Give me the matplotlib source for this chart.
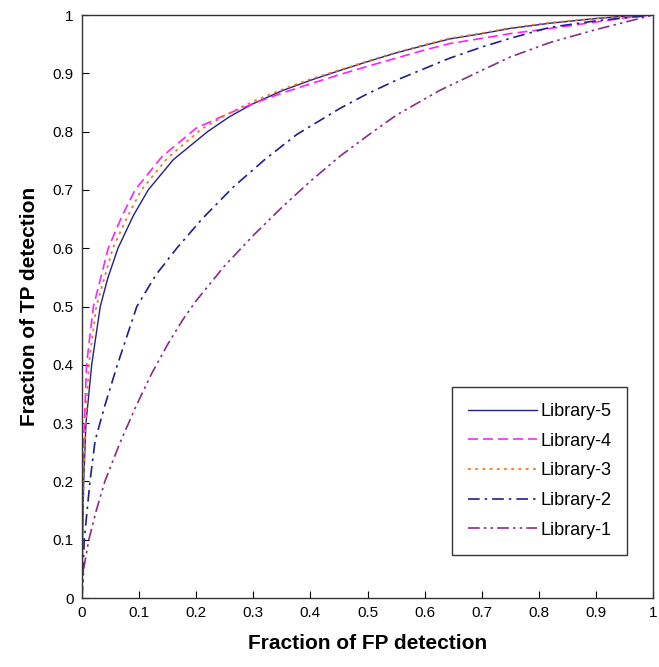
import numpy as np
import matplotlib.pyplot as plt

plt.rcParams['font.family'] = ['Liberation Sans', 'DejaVu Sans']

# ROC-like curves (FP fraction, TP fraction)
fp_lib5 = [0, 0.001, 0.003, 0.007, 0.017, 0.032, 0.045, 0.063, 0.09, 0.116, 0.16, 0.22, 0.259, 0.3, 0.35, 0.4,
           0.452, 0.5, 0.55, 0.6, 0.644, 0.7, 0.75, 0.82, 0.9, 0.95, 1.0]
tp_lib5 = [0, 0.1, 0.2, 0.3, 0.4, 0.5, 0.548, 0.6, 0.656, 0.7, 0.752, 0.8, 0.826, 0.848, 0.87, 0.888,
           0.905, 0.92, 0.935, 0.948, 0.959, 0.968, 0.977, 0.986, 0.994, 0.998, 1.0]

fp_lib4 = [0, 0.001, 0.003, 0.008, 0.02, 0.046, 0.07, 0.093, 0.14, 0.2, 0.259, 0.3, 0.35, 0.4,
           0.452, 0.5, 0.55, 0.6, 0.644, 0.7, 0.75, 0.82, 0.9, 0.95, 1.0]
tp_lib4 = [0, 0.15, 0.27, 0.4, 0.5, 0.6, 0.655, 0.7, 0.757, 0.806, 0.832, 0.848, 0.866, 0.882,
           0.898, 0.912, 0.926, 0.94, 0.951, 0.96, 0.968, 0.977, 0.988, 0.995, 1.0]

fp_lib3 = [0, 0.001, 0.004, 0.012, 0.025, 0.054, 0.08, 0.104, 0.15, 0.21, 0.259, 0.3, 0.35, 0.4,
           0.452, 0.5, 0.55, 0.6, 0.644, 0.7, 0.75, 0.82, 0.9, 0.95, 1.0]
tp_lib3 = [0, 0.12, 0.25, 0.4, 0.5, 0.6, 0.655, 0.7, 0.755, 0.805, 0.832, 0.852, 0.872, 0.89,
           0.906, 0.921, 0.936, 0.949, 0.96, 0.969, 0.978, 0.987, 0.994, 0.998, 1.0]

fp_lib2 = [0, 0.004, 0.014, 0.023, 0.04, 0.062, 0.096, 0.13, 0.166, 0.21, 0.265, 0.32, 0.376,
           0.452, 0.5, 0.55, 0.644, 0.7, 0.75, 0.82, 0.9, 1.0]
tp_lib2 = [0, 0.1, 0.2, 0.27, 0.33, 0.4, 0.5, 0.555, 0.6, 0.65, 0.705, 0.752, 0.795,
           0.84, 0.865, 0.888, 0.926, 0.945, 0.96, 0.979, 0.99, 1.0]

fp_lib1 = [0, 0.003, 0.012, 0.025, 0.04, 0.066, 0.095, 0.122, 0.15, 0.177, 0.2, 0.25, 0.3, 0.35, 0.4,
           0.452, 0.5, 0.55, 0.627, 0.7, 0.75, 0.82, 0.9, 1.0]
tp_lib1 = [0, 0.05, 0.1, 0.15, 0.2, 0.265, 0.33, 0.385, 0.435, 0.478, 0.51, 0.57, 0.622, 0.67, 0.715,
           0.758, 0.793, 0.828, 0.871, 0.905, 0.928, 0.953, 0.975, 1.0]

ticks = np.round(np.arange(0, 1.01, 0.1), 1)
tick_labels = ['0'] + [f'{t:g}' for t in ticks[1:-1]] + ['1']

fig = plt.figure(figsize=(6.59, 6.67), dpi=100)
ax = fig.add_axes([0.1244, 0.1034, 0.8666, 0.8741])

ax.plot(fp_lib5, tp_lib5, color='#1f1f8f', lw=1.0, ls='-', label='Library-5')
ax.plot(fp_lib4, tp_lib4, color='#ff22ff', lw=1.2, ls=(0, (6, 3)), label='Library-4')
ax.plot(fp_lib3, tp_lib3, color='#f07820', lw=1.3, ls=(0, (1.5, 2.5)), label='Library-3')
ax.plot(fp_lib2, tp_lib2, color='#1f1f8f', lw=1.2, ls=(0, (7, 3, 1.5, 3)), label='Library-2')
ax.plot(fp_lib1, tp_lib1, color='#8a2a8a', lw=1.2, ls=(0, (7, 2.5, 1.5, 2.5, 1.5, 2.5)), label='Library-1')

ax.set_xlim(0, 1)
ax.set_ylim(0, 1)
ax.set_xticks(ticks)
ax.set_xticklabels(tick_labels)
ax.set_yticks(ticks)
ax.set_yticklabels(tick_labels)
ax.tick_params(direction='in', length=5, labelsize=11, pad=6)
for s in ax.spines.values():
    s.set_linewidth(1.0)
    s.set_color('#333333')

ax.set_xlabel('Fraction of FP detection', fontsize=15, fontweight='bold', labelpad=10)
ax.set_ylabel('Fraction of TP detection', fontsize=15, fontweight='bold', labelpad=10)

leg = ax.legend(loc='lower right', bbox_to_anchor=(0.955, 0.074), fontsize=13,
                frameon=True, fancybox=False, edgecolor='black', handlelength=3.8,
                labelspacing=0.7, borderpad=0.9, handletextpad=0.2, borderaxespad=0)
leg.get_frame().set_linewidth(1.0)

fig.savefig('out.png', dpi=100)
